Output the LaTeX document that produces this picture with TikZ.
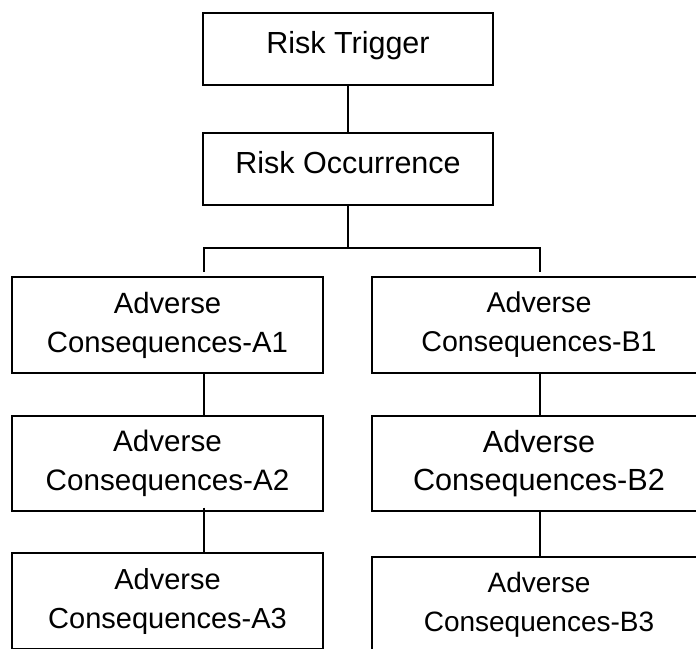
\documentclass[tikz,border=0pt]{standalone}
\usepackage{fontspec}
\setmainfont{Liberation Sans}
\begin{document}
\begin{tikzpicture}[x=1pt,y=-1pt,
  box/.style={draw=black,line width=1.2pt,rectangle,inner sep=0pt,align=center,anchor=center},
  single/.style={box,minimum width=290pt,minimum height=72pt,text height=23pt,text depth=13.6pt,font=\fontsize{30.5}{38}\selectfont},
  conn/.style={draw=black,line width=1.2pt}]
\useasboundingbox (0,0) rectangle (696,648);
\clip (0,0) rectangle (696,648);
\node[single] (rt) at (348,49) {Risk Trigger};
\node[single] (ro) at (348,169) {Risk Occurrence};
\node[box,minimum width=311pt,minimum height=96pt,font=\fontsize{29.3}{39}\selectfont] (a1) at (167.5,325) {Adverse\\Consequences-A1};
\node[box,minimum width=311pt,minimum height=95pt,font=\fontsize{29.6}{39}\selectfont] (a2) at (167.5,463.5) {Adverse\\Consequences-A2};
\node[box,minimum width=311pt,minimum height=96pt,font=\fontsize{29}{39}\selectfont] (a3) at (167.5,601) {Adverse\\Consequences-A3};
\node[box,minimum width=334pt,minimum height=96pt,font=\fontsize{28.6}{39}\selectfont] (b1) at (539,325) {Adverse\\Consequences-B1};
\node[box,minimum width=334pt,minimum height=95pt,font=\fontsize{30.6}{38}\selectfont] (b2) at (539,463.5) {Adverse\\Consequences-B2};
\node[box,minimum width=334pt,minimum height=96pt,font=\fontsize{28}{39}\selectfont] (b3) at (539,605) {Adverse\\Consequences-B3};
\coordinate (xa) at (204,0);
\coordinate (xb) at (540,0);
\coordinate (bar) at (348,248);
\coordinate (dropa) at (204,272);
\coordinate (dropb) at (540,272);
\draw[conn] (rt.south) -- (ro.north);
\draw[conn] (ro.south) -- (bar);
\draw[conn] (dropa) -- (bar -| xa) -- (bar -| xb) -- (dropb);
\draw[conn] (a1.south -| xa) -- (a2.north -| xa);
\draw[conn] ([yshift=4pt]a2.south -| xa) -- (a3.north -| xa);
\draw[conn] (b1.south -| xb) -- (b2.north -| xb);
\draw[conn] (b2.south -| xb) -- (b3.north -| xb);
\end{tikzpicture}
\end{document}
